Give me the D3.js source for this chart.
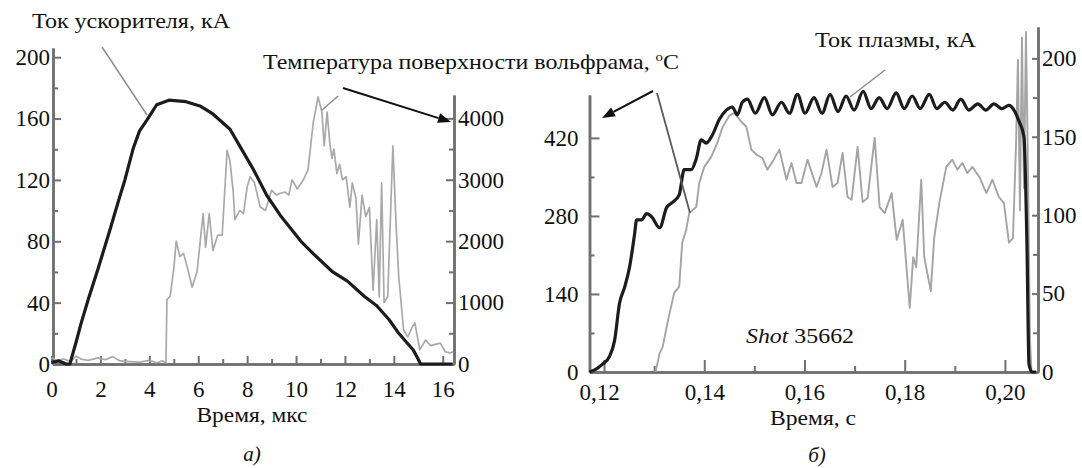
<!DOCTYPE html>
<html><head><meta charset="utf-8">
<script src="https://cdn.jsdelivr.net/npm/d3@7"></script>
<style>
body{margin:0;background:#fff}
</style>
</head><body>
<svg id="c" width="1082" height="468"></svg>
<script>
// ---------- Panel a) : accelerator current (kA) and W surface temperature (°C) vs time (µs)
const accelTime = [0,0.3,0.6,0.75,1.0,1.2,1.5,1.9,2.4,2.75,3.0,3.35,3.6,3.9,4.3,4.8,5.5,6.1,6.6,7.3,7.7,8.25,8.8,9.35,10.2,10.7,11.5,12.1,12.8,13.3,13.8,14.2,14.8,15.1,15.5,16.4];
const accelCurrent = [1,2,0,0,14,26,42,62,88,107,120,141,152,159,169,172,171,168,163,153,142,127,110,97,80,72,60,54,44,38,29,20,9,0,0,0];
const tempATime = [0,0.2,0.5,0.8,1.0,1.2,1.5,1.9,2.2,2.5,2.8,3.2,3.6,4.0,4.3,4.55,4.68,4.72,4.85,5.0,5.1,5.25,5.4,5.55,5.75,5.95,6.2,6.3,6.45,6.6,6.8,6.98,7.18,7.3,7.43,7.5,7.7,7.85,8.0,8.12,8.3,8.53,8.75,9.0,9.2,9.35,9.55,9.7,9.84,10.05,10.3,10.49,10.7,10.9,11.06,11.15,11.27,11.38,11.47,11.55,11.67,11.78,11.9,12.05,12.2,12.3,12.45,12.55,12.7,12.85,13.0,13.15,13.3,13.4,13.5,13.6,13.75,13.96,14.1,14.2,14.4,14.57,14.75,14.86,15.06,15.3,15.5,15.7,15.9,16.1,16.3,16.42];
const tempAValue = [100,60,80,40,130,80,60,100,70,120,50,40,30,60,20,50,20,1050,1100,1550,2000,1750,1800,1580,1250,1500,2450,1900,2450,1850,2100,2100,3480,3300,2800,2350,2500,2450,2880,3050,2950,2560,2500,2830,2750,2780,2800,2750,3000,2850,3000,3160,3920,4350,4100,3550,4100,3600,3350,3500,3100,3250,3000,3050,2550,2950,2700,1950,2750,2400,2550,1200,2350,1090,2950,1000,1100,3550,2200,1420,550,440,600,670,230,390,300,320,340,200,180,200];
const aTimeTicks = [0,2,4,6,8,10,12,14,16];
const aCurrentTicks = [0,40,80,120,160,200];
const aTempTicks = [0,1000,2000,3000,4000];

// ---------- Panel б) : plasma current (kA) and W surface temperature (°C) vs time (s)
const plasmaTime = [0.1171,0.1185,0.1197,0.1211,0.1221,0.1231,0.1241,0.1251,0.1261,0.1265,0.1275,0.1285,0.1295,0.1311,0.1325,0.1336,0.1350,0.1360,0.1374,0.1384,0.1394,0.1404,0.1416,0.1430,0.1444,0.1456,0.1466,0.1476,0.1486,0.1502,0.1520,0.1536,0.1554,0.1570,0.1586,0.1601,0.1619,0.1635,0.1651,0.1667,0.1683,0.1699,0.1717,0.1733,0.1749,0.1765,0.1783,0.1799,0.1815,0.1831,0.1849,0.1864,0.1880,0.1896,0.1912,0.1928,0.1946,0.1962,0.1978,0.1994,0.2008,0.2018,0.2028,0.2038,0.2044,0.2048,0.2054,0.2062];
const plasmaCurrent = [0,2,5,10,20,44,54,67,88,97,97,101,99,92,105,108,113,129,129,136,148,146,151,161,167,169,164,172,174,165,175,164,172,165,177,165,175,165,177,166,176,167,179,168,175,168,178,168,176,168,177,168,172,167,174,167,171,167,171,168,170,167,160,150,80,5,0,0];
const tempBTime = [0.1303,0.1305,0.1311,0.1317,0.1327,0.1340,0.1350,0.1356,0.1364,0.1370,0.1384,0.1390,0.1400,0.1414,0.1426,0.1436,0.1450,0.1460,0.1474,0.1484,0.1494,0.1504,0.1516,0.1526,0.1536,0.1550,0.1564,0.1574,0.1584,0.1594,0.1606,0.1624,0.1634,0.1644,0.1656,0.1666,0.1676,0.1686,0.1694,0.1706,0.1716,0.1726,0.1740,0.1750,0.1760,0.1774,0.1784,0.1796,0.1810,0.1817,0.1823,0.1833,0.1839,0.1852,0.1859,0.1869,0.1883,0.1895,0.1905,0.1915,0.1925,0.1935,0.1949,0.1963,0.1975,0.1988,0.1998,0.2008,0.2016,0.2022,0.2026,0.2030,0.2034,0.2038,0.2042,0.2046,0.2050,0.2053,0.2062];
const tempBValue = [0,9,34,45,90,142,153,232,255,285,296,339,368,386,411,438,460,465,449,440,399,390,384,363,377,399,345,375,339,339,381,332,357,399,332,339,393,314,309,404,305,312,420,296,285,321,237,273,115,206,188,345,206,145,242,303,368,381,363,375,357,368,350,321,345,314,303,232,240,404,560,290,600,330,610,360,60,0,0];
const bTimeTicks = [0.12,0.14,0.16,0.18,0.20];
const bTempTicks = [0,140,280,420];
const bCurrentTicks = [0,50,100,150,200];

const svg = d3.select("#c");
const AX = "#707070";
const FONT = '"Liberation Serif", "DejaVu Serif", serif';

function styleAxis(g, fs){
  g.attr("font-family", FONT);
  g.select(".domain").attr("stroke", AX).attr("stroke-width", 2.5);
  g.selectAll(".tick line").attr("stroke", AX).attr("stroke-width", 2);
  g.selectAll(".tick text").attr("fill", "#111").attr("font-size", fs).attr("font-family", FONT);
}

// ===== Panel a =====
const xA = d3.scaleLinear().domain([0.06, 16.46]).range([53, 454]);
const yA = d3.scaleLinear().domain([0, 206]).range([364, 48]);
const yAT = d3.scaleLinear().domain([0, 4380]).range([364, 95]);

const gA = svg.append("g");
gA.append("g").attr("transform","translate(0,364)")
  .call(d3.axisBottom(xA).tickValues(d3.range(1,17,2)).tickSize(-5).tickSizeOuter(0).tickFormat(""))
  .call(g=>styleAxis(g,23));
gA.append("g").attr("transform","translate(53,0)")
  .call(d3.axisLeft(yA).tickValues(d3.range(20,201,40)).tickSize(-5).tickSizeOuter(0).tickFormat(""))
  .call(g=>styleAxis(g,23));
gA.append("g").attr("transform","translate(454,0)")
  .call(d3.axisRight(yAT).tickValues(d3.range(500,4001,1000)).tickSize(-5).tickSizeOuter(0).tickFormat(""))
  .call(g=>styleAxis(g,23));
gA.append("g").attr("transform","translate(0,364)")
  .call(d3.axisBottom(xA).tickValues(aTimeTicks).tickSize(-8).tickSizeOuter(0).tickPadding(17).tickFormat(d3.format("d")))
  .call(g=>styleAxis(g,23));
gA.append("g").attr("transform","translate(53,0)")
  .call(d3.axisLeft(yA).tickValues(aCurrentTicks).tickSize(-8).tickSizeOuter(0).tickPadding(3).tickFormat(d3.format("d")))
  .call(g=>styleAxis(g,23));
gA.append("g").attr("transform","translate(454,0)")
  .call(d3.axisRight(yAT).tickValues(aTempTicks).tickSize(-8).tickSizeOuter(0).tickPadding(4).tickFormat(d3.format("d")))
  .call(g=>styleAxis(g,23));

const tempALine = d3.line().x((d,i)=>xA(tempATime[i])).y(d=>yAT(d));
gA.append("path").datum(tempAValue).attr("d", tempALine)
  .attr("fill","none").attr("stroke","#a9a9a9").attr("stroke-width",1.7).attr("stroke-linejoin","round");
const accelLine = d3.line().x((d,i)=>xA(accelTime[i])).y(d=>yA(d));
gA.append("path").datum(accelCurrent).attr("d", accelLine)
  .attr("fill","none").attr("stroke","#1c1c1c").attr("stroke-width",3.2).attr("stroke-linejoin","round");

// ===== Panel b =====
const xB = d3.scaleLinear().domain([0.1171, 0.2066]).range([589.5, 1038]);
const yBT = d3.scaleLinear().domain([0, 497]).range([372, 95]);
const yBI = d3.scaleLinear().domain([0, 220]).range([372, 27]);
const gB = svg.append("g");
gB.append("g").attr("transform","translate(0,372)")
  .call(d3.axisBottom(xB).tickValues([0.13,0.15,0.17,0.19]).tickSize(-6).tickSizeOuter(0).tickFormat(""))
  .call(g=>styleAxis(g,23));
gB.append("g").attr("transform","translate(589.5,0)")
  .call(d3.axisLeft(yBT).tickValues([70,210,350]).tickSize(-5).tickSizeOuter(0).tickFormat(""))
  .call(g=>styleAxis(g,23));
gB.append("g").attr("transform","translate(1038,0)")
  .call(d3.axisRight(yBI).tickValues([25,75,125,175]).tickSize(-5).tickSizeOuter(0).tickFormat(""))
  .call(g=>styleAxis(g,23));
const commaFmt = d=>d3.format(".2f")(d).replace(".", ",");
gB.append("g").attr("transform","translate(0,372)")
  .call(d3.axisBottom(xB).tickValues(bTimeTicks).tickSize(-12).tickSizeOuter(0).tickPadding(12).tickFormat(commaFmt))
  .call(g=>styleAxis(g,23))
  .call(g=>g.selectAll(".tick text").filter(d=>d===0.12).attr("dx",-5));
gB.append("g").attr("transform","translate(589.5,0)")
  .call(d3.axisLeft(yBT).tickValues(bTempTicks).tickSize(-10).tickSizeOuter(0).tickPadding(11).tickFormat(d3.format("d")))
  .call(g=>styleAxis(g,23));
gB.append("g").attr("transform","translate(1038,0)")
  .call(d3.axisRight(yBI).tickValues(bCurrentTicks).tickSize(-6).tickSizeOuter(0).tickPadding(4).tickFormat(d3.format("d")))
  .call(g=>styleAxis(g,23));

const tempBLine = d3.line().x((d,i)=>xB(tempBTime[i])).y(d=>yBT(d));
gB.append("path").datum(tempBValue).attr("d", tempBLine)
  .attr("fill","none").attr("stroke","#a4a4a4").attr("stroke-width",1.9).attr("stroke-linejoin","round");
const plasmaLine = d3.line().x((d,i)=>xB(plasmaTime[i])).y(d=>yBI(d)).curve(d3.curveMonotoneX);
gB.append("path").datum(plasmaCurrent).attr("d", plasmaLine)
  .attr("fill","none").attr("stroke","#1c1c1c").attr("stroke-width",3.2).attr("stroke-linejoin","round");

// ===== annotations =====
const ann = svg.append("g");
function leader(x1,y1,x2,y2,col,w){
  ann.append("line").attr("x1",x1).attr("y1",y1).attr("x2",x2).attr("y2",y2)
    .attr("stroke",col).attr("stroke-width",w);
}
function arrow(x1,y1,x2,y2){
  const a = Math.atan2(y2-y1,x2-x1), L=13, W=5;
  const bx = x2-L*Math.cos(a), by = y2-L*Math.sin(a);
  ann.append("line").attr("x1",x1).attr("y1",y1).attr("x2",bx).attr("y2",by)
    .attr("stroke","#111").attr("stroke-width",2);
  ann.append("path").attr("d",`M${x2},${y2}L${bx+W*Math.sin(a)},${by-W*Math.cos(a)}L${bx-W*Math.sin(a)},${by+W*Math.cos(a)}Z`)
    .attr("fill","#111");
}
leader(102,47,147,115,"#8a8a8a",1.4);
leader(338,96,322,110,"#8a8a8a",1.4);
leader(657,93,690,213,"#5a5a5a",1.8);
leader(885,70,850,97,"#8a8a8a",1.4);
arrow(343,88,451,122);
arrow(653,91,602,118);

const T = (x,y,s,fs,anchor,len)=>{
  const t = svg.append("text").attr("x",x).attr("y",y).attr("font-size",fs)
    .attr("font-family",FONT).attr("fill","#111").attr("text-anchor",anchor||"start").text(s);
  if(len) t.attr("textLength",len).attr("lengthAdjust","spacingAndGlyphs");
  return t;
};
T(32,28,"Ток ускорителя, кА",21,"start",198);
const tw = svg.append("text").attr("x",263).attr("y",69).attr("font-size",21).attr("font-family",FONT)
  .attr("fill","#111").attr("textLength",416).attr("lengthAdjust","spacingAndGlyphs");
tw.append("tspan").text("Температура поверхности вольфрама, ");
tw.append("tspan").attr("dy",-8).attr("font-size",13).text("o");
tw.append("tspan").attr("dy",8).text("C");
T(815,47,"Ток плазмы, кА",21,"start",161);
T(252,422,"Время, мкс",21,"middle",111);
T(813,425,"Время, с",21,"middle",86);
T(252,461,"а)",21,"middle").attr("font-style","italic");
T(817,462,"б)",21,"middle").attr("font-style","italic");
const sh = svg.append("text").attr("x",746).attr("y",343).attr("font-size",21).attr("font-family",FONT)
  .attr("fill","#111").attr("textLength",108).attr("lengthAdjust","spacingAndGlyphs");
sh.append("tspan").attr("font-style","italic").text("Shot");
sh.append("tspan").text(" 35662");
</script>
</body></html>
